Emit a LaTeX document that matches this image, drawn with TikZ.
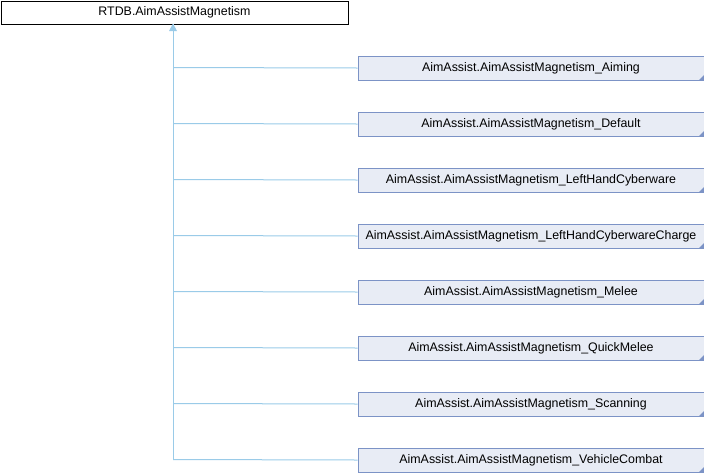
\documentclass[tikz,border=0pt]{standalone}
\usepackage{fontspec}
\setmainfont{Liberation Sans}
\usetikzlibrary{arrows.meta}
\definecolor{boxfill}{HTML}{E8ECF5}
\definecolor{boxline}{HTML}{7C93C6}
\definecolor{edgecol}{HTML}{9ACBE8}
\tikzset{
  basebox/.style={draw=black, fill=white, line width=1pt, minimum width=347pt, minimum height=23pt, inner sep=0pt, font=\fontsize{12.4}{13}\selectfont, anchor=north west},
  childbox/.style={draw=boxline, fill=boxfill, line width=1pt, minimum width=346pt, minimum height=24pt, inner sep=0pt, font=\fontsize{12.4}{13}\selectfont, anchor=north west},
  edge/.style={draw=edgecol, line width=1pt},
}
\begin{document}
\begin{tikzpicture}[x=1pt,y=-1pt]
\useasboundingbox (0,0) rectangle (704,472);
\node[basebox] (base) at (0.5,0.5) {RTDB.AimAssistMagnetism};
\coordinate (trunk) at (173,23.5);
\foreach \i/\name in {0/Aiming,1/Default,2/LeftHandCyberware,3/LeftHandCyberwareCharge,4/Melee,5/QuickMelee,6/Scanning,7/VehicleCombat}{
  \node[childbox] (c\i) at (357.5,{55.5+56*\i}) {AimAssist.AimAssistMagnetism\_\name};
  \fill[boxline] (c\i.south east) -- ++(0,-6) -- ++(-6,6) -- cycle;
  \coordinate (j\i) at (173,{67.5+56*\i});
  \draw[edge] (j\i) -- (c\i.west);
}
\draw[edge] (j7) -- (trunk);
\fill[edgecol] (trunk) -- (169,31) -- (177,31) -- cycle;
\end{tikzpicture}
\end{document}
